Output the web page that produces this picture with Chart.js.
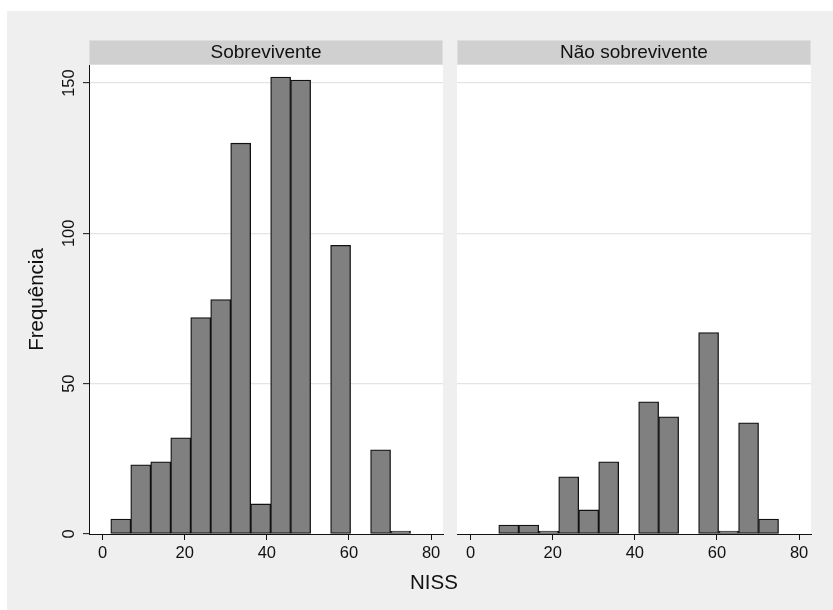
<!DOCTYPE html>
<html>
<head>
<meta charset="utf-8">
<script src="https://cdn.jsdelivr.net/npm/chart.js@4/dist/chart.umd.min.js"></script>
<style>
  html, body { margin: 0; padding: 0; background: #ffffff; }
  #frame { position: absolute; left: 7px; top: 11px; width: 826px; height: 599px; background: #efefef; }
  canvas { position: absolute; top: 0; }
  #left { left: 0; }
  #right { left: 450px; }
  #xtitle {
    position: absolute; left: 374px; width: 120px; top: 570px; text-align: center;
    font: 20.5px "Liberation Sans", Arial, Helvetica, sans-serif; line-height: 24px; color: #111;
  }
</style>
</head>
<body>
<div id="frame"></div>
<canvas id="left" width="450" height="610"></canvas>
<canvas id="right" width="383" height="610"></canvas>
<div id="xtitle">NISS</div>
<script>
// NISS histograms by outcome group
const panelTitles = ['Sobrevivente', 'Não sobrevivente'];
const binEdges = [2, 6.87, 11.73, 16.6, 21.47, 26.33, 31.2, 36.07, 40.93, 45.8, 50.67, 55.53, 60.4, 65.27, 70.13, 75];
const survivorCounts = [5, 23, 24, 32, 72, 78, 130, 10, 152, 151, 0, 96, 0, 28, 1];
const nonSurvivorCounts = [0, 3, 3, 1, 19, 8, 24, 0, 44, 39, 0, 67, 1, 37, 5];
const xTicks = [0, 20, 40, 60, 80];
const yTicks = [0, 50, 100, 150];

Chart.defaults.font.family = '"Liberation Sans", Arial, Helvetica, sans-serif';
Chart.defaults.color = '#111';

// White plot region plus the grey title strip above it
const stripPlugin = {
  id: 'strip',
  beforeDraw(chart, args, opts) {
    const { ctx, chartArea: a } = chart;
    const w = a.right - a.left;
    ctx.save();
    ctx.fillStyle = '#ffffff';
    ctx.fillRect(a.left, a.top, w, a.bottom - a.top);
    ctx.fillStyle = '#d0d0d0';
    ctx.fillRect(a.left, a.top - 25, w, 25);
    ctx.strokeStyle = '#d9e1e7';
    ctx.lineWidth = 1;
    ctx.strokeRect(a.left + 0.5, a.top - 24.5, w - 1, 24);
    ctx.fillStyle = '#111';
    ctx.font = '19px "Liberation Sans", Arial, Helvetica, sans-serif';
    ctx.textAlign = 'center';
    ctx.textBaseline = 'middle';
    ctx.fillText(opts.text, a.left + w / 2, a.top - 12);
    ctx.restore();
  }
};

function histogramData(counts) {
  return counts.map((c, i) => ({ x: (binEdges[i] + binEdges[i + 1]) / 2, y: c === 0 ? null : c }));
}

function makePanel(canvasId, title, counts, withYAxis) {
  return new Chart(document.getElementById(canvasId), {
    type: 'bar',
    data: {
      datasets: [{
        data: histogramData(counts),
        backgroundColor: '#808080',
        borderColor: '#111111',
        borderWidth: 1.3,
        borderSkipped: false,
        barPercentage: 1,
        categoryPercentage: 1
      }]
    },
    plugins: [stripPlugin],
    options: {
      responsive: false,
      animation: false,
      events: [],
      layout: {
        padding: withYAxis ? { left: 0, right: 7, top: 65, bottom: 0 } : { left: 7, right: 22, top: 65, bottom: 0 }
      },
      plugins: {
        legend: { display: false },
        tooltip: { enabled: false },
        strip: { text: title }
      },
      scales: {
        x: {
          type: 'linear',
          min: -3.3,
          max: 82.9,
          offset: false,
          afterBuildTicks: s => { s.ticks = xTicks.map(v => ({ value: v })); },
          afterFit: s => { s.height = 76; },
          grid: { display: true, offset: false, drawOnChartArea: false, drawTicks: true, tickLength: 6, tickColor: '#111', tickWidth: 1 },
          border: { display: true, color: '#111', width: 1 },
          ticks: { font: { size: 16.5 }, color: '#111', padding: 4, maxRotation: 0, autoSkip: false }
        },
        y: {
          min: 0,
          max: 156,
          afterBuildTicks: s => { s.ticks = yTicks.map(v => ({ value: v })); },
          afterFit: s => { s.width = withYAxis ? 89 : 0; },
          grid: {
            color: c => (c.tick && c.tick.value === 0) ? 'rgba(0,0,0,0)' : '#e4e4e4',
            lineWidth: 1.3,
            drawTicks: withYAxis,
            tickLength: 6,
            tickColor: '#111',
            tickWidth: 1
          },
          border: { display: withYAxis, color: '#111', width: 1 },
          ticks: {
            display: withYAxis,
            font: { size: 16.5 },
            color: '#111',
            padding: 0,
            minRotation: 90,
            maxRotation: 90,
            crossAlign: 'center'
          },
          title: {
            display: withYAxis,
            text: 'Frequência',
            font: { size: 20.5 },
            color: '#111',
            padding: { top: 25, bottom: 0 }
          }
        }
      }
    }
  });
}

makePanel('left', panelTitles[0], survivorCounts, true);
makePanel('right', panelTitles[1], nonSurvivorCounts, false);
</script>
</body>
</html>
